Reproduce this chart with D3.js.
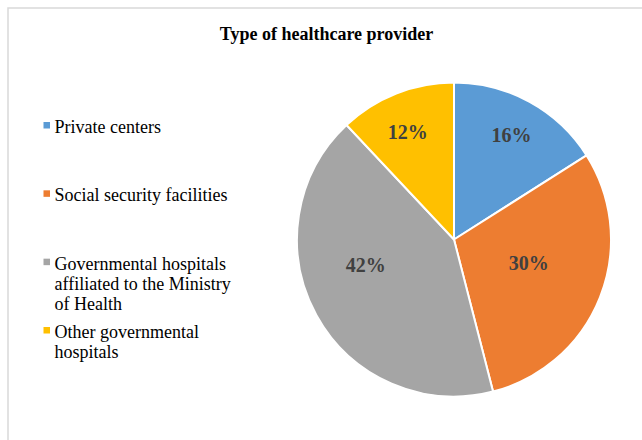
<!DOCTYPE html>
<html>
<head>
<meta charset="utf-8">
<script src="https://cdn.jsdelivr.net/npm/d3@7"></script>
<style>
  body { margin: 0; background: #fff; }
  svg { display: block; font-family: "Liberation Serif", "Times New Roman", serif; }
</style>
</head>
<body>
<svg id="pie" width="642" height="440"></svg>
<script>
// chart data
var categories = ["Private centers", "Social security facilities",
  "Governmental hospitals affiliated to the Ministry of Health", "Other governmental hospitals"];
var shares = [16, 30, 42, 12];
var title = "Type of healthcare provider";

var colors = ["#5b9bd5", "#ed7d31", "#a5a5a5", "#ffc000"];
// label placement tweaks (fraction of radius, angle nudge in degrees), like Excel's best fit
var labelRadius = [0.76, 0.5, 0.585, 0.745];
var labelNudge = [0, -4, 12.5, -1.7];

var svg = d3.select("svg#pie"),
  cx = 454, cy = 239.5, radius = 157;

// chart area border
svg.append("rect")
  .attr("x", 8).attr("y", 8)
  .attr("width", 660).attr("height", 460)
  .attr("fill", "none")
  .attr("stroke", "#d9d9d9")
  .attr("stroke-width", 1.5);

svg.append("text")
  .attr("x", 326.5).attr("y", 40)
  .attr("text-anchor", "middle")
  .style("font-size", "18px")
  .style("font-weight", "bold")
  .attr("fill", "#000")
  .text(title);

var pie = d3.pie().sort(null).value(function(d) { return d; });
var arcs = pie(shares);

var arc = d3.arc().innerRadius(0).outerRadius(radius);

var g = svg.append("g")
  .attr("transform", "translate(" + cx + "," + cy + ")");

g.selectAll("path.slice")
  .data(arcs)
  .enter().append("path")
  .attr("class", "slice")
  .attr("d", arc)
  .attr("fill", function(d, i) { return colors[i]; })
  .attr("stroke", "#fff")
  .attr("stroke-width", 2)
  .attr("stroke-linejoin", "round");

g.selectAll("text.lbl")
  .data(arcs)
  .enter().append("text")
  .attr("class", "lbl")
  .attr("transform", function(d, i) {
    var a = (d.startAngle + d.endAngle) / 2 + labelNudge[i] * Math.PI / 180,
      r = radius * labelRadius[i];
    return "translate(" + (r * Math.sin(a)) + "," + (-r * Math.cos(a)) + ")";
  })
  .attr("text-anchor", "middle")
  .attr("dy", "0.35em")
  .style("font-size", "20px")
  .style("font-weight", "bold")
  .attr("fill", "#404040")
  .text(function(d) { return d.data + "%"; });

// legend
var ly = d3.scaleLinear().domain([0, categories.length - 1]).range([133, 338]);

var item = svg.selectAll("g.legend")
  .data(categories)
  .enter().append("g")
  .attr("class", "legend")
  .attr("transform", function(d, i) { return "translate(0," + ly(i) + ")"; });

item.append("rect")
  .attr("x", 43.5).attr("y", -11)
  .attr("width", 6.5).attr("height", 6.5)
  .attr("fill", function(d, i) { return colors[i]; });

item.append("text")
  .attr("x", 54.5)
  .style("font-size", "18px")
  .attr("fill", "#000")
  .each(function(d) { wrap(d3.select(this), d, 182, 20); });

function wrap(text, str, width, lineHeight) {
  var words = str.split(" "), line = [], n = 0,
    tspan = text.append("tspan").attr("x", 54.5).attr("y", 0);
  words.forEach(function(w) {
    line.push(w);
    tspan.text(line.join(" "));
    if (tspan.node().getComputedTextLength() > width && line.length > 1) {
      line.pop();
      tspan.text(line.join(" "));
      line = [w];
      n++;
      tspan = text.append("tspan").attr("x", 54.5).attr("y", n * lineHeight).text(w);
    }
  });
}
</script>
</body>
</html>
